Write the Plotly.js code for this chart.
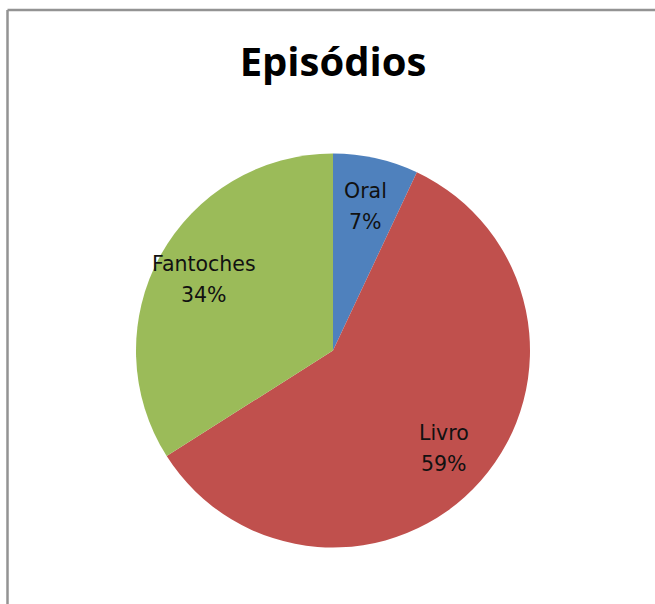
<!DOCTYPE html>
<html>
<head>
<meta charset="utf-8">
<script src="https://cdn.plot.ly/plotly-3.0.1.min.js"></script>
<style>html,body{margin:0;padding:0;background:#fff;}#chart{width:655px;height:604px;}</style>
</head>
<body>
<div id="chart"></div>
<script>
const chartTitle = 'Episódios';
const labels = ['Oral', 'Livro', 'Fantoches'];
const values = [7, 59, 34];
const colors = ['#4F81BD', '#C0504D', '#9BBB59'];

const W = 655, H = 604;
const cx = 333, cy = 350.5, R = 197;
const domX = [(cx - R) / W, (cx + R) / W];
const domY = [(H - cy - R) / H, (H - cy + R) / H];

const total = values.reduce((a, b) => a + b, 0);
let acc = 0;
const labelR = 0.75 * R;
const labelFont = {family: 'DejaVu Sans', size: 20.5, color: '#111111'};
const annotations = [];
labels.forEach((lab, i) => {
  const mid = (acc + values[i] / 2) / total * 2 * Math.PI;
  acc += values[i];
  const px = cx + labelR * Math.sin(mid);
  const py = cy - labelR * Math.cos(mid);
  const pct = Math.round(values[i] / total * 100);
  const base = {x: px / W, y: 1 - py / H, xref: 'paper', yref: 'paper',
    xanchor: 'center', yanchor: 'middle', showarrow: false, font: labelFont};
  annotations.push(Object.assign({}, base, {text: lab, yshift: 15.5}));
  annotations.push(Object.assign({}, base, {text: pct + '%', yshift: -15.5}));
});

const trace = {
  type: 'pie',
  labels: labels,
  values: values,
  sort: false,
  direction: 'clockwise',
  rotation: 0,
  marker: {colors: colors, line: {width: 0}},
  textinfo: 'none',
  hoverinfo: 'label+percent',
  showlegend: false,
  domain: {x: domX, y: domY}
};

const layout = {
  width: W, height: H,
  margin: {l: 0, r: 0, t: 0, b: 0},
  paper_bgcolor: '#ffffff',
  title: {
    text: '<b>' + chartTitle + '</b>',
    x: cx / W, xanchor: 'center',
    y: 1 - 62 / H, yanchor: 'middle',
    font: {family: 'Open Sans', size: 40, color: '#000000'}
  },
  annotations: annotations,
  shapes: [
    {type: 'line', xref: 'paper', yref: 'paper', x0: 7.5 / W, x1: 1, y0: 1 - 10 / H, y1: 1 - 10 / H, line: {color: '#939393', width: 2.5}},
    {type: 'line', xref: 'paper', yref: 'paper', x0: 7.5 / W, x1: 7.5 / W, y0: 0, y1: 1 - 10 / H, line: {color: '#939393', width: 2.5}}
  ]
};

Plotly.newPlot('chart', [trace], layout, {displayModeBar: false, staticPlot: true});
</script>
</body>
</html>
